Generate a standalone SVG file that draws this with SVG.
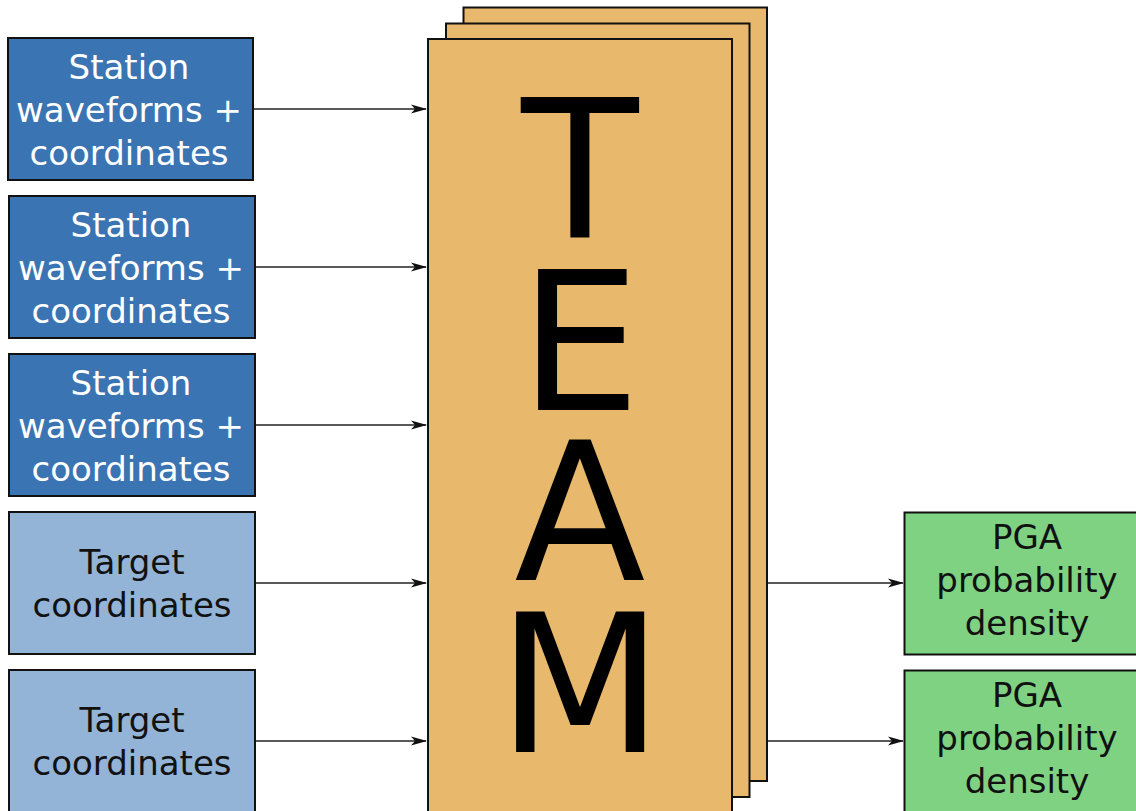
<svg xmlns="http://www.w3.org/2000/svg" width="1136" height="811" viewBox="0 0 1136 811">
  <defs>
    <marker id="arr" viewBox="0 0 16 10" refX="15" refY="5" markerWidth="16" markerHeight="10" markerUnits="userSpaceOnUse" orient="auto">
      <path d="M0,0.5 L16,5 L0,9.5 L4,5 Z" fill="#111"/>
    </marker>
    <style>
      .box { stroke: #111; stroke-width: 2; }
      .station { fill: #3b74b3; }
      .target { fill: #93b3d7; }
      .team { fill: #e8b86d; stroke: #111; stroke-width: 2; }
      .out { fill: #7fd282; }
      .lbl { font-family: "DejaVu Sans", sans-serif; font-size: 34px; text-anchor: middle; }
      .white { fill: #ffffff; }
      .black { fill: #111111; }
      .big { font-family: "DejaVu Sans", sans-serif; font-size: 192px; text-anchor: middle; fill: #000; }
      .conn line { stroke: #222; stroke-width: 1.3; fill: none; marker-end: url(#arr); }
    </style>
  </defs>
  <rect width="1136" height="811" fill="#ffffff"/>

  <g id="team">
    <rect class="team" x="463.5" y="7.5" width="303.5" height="773.5"/>
    <rect class="team" x="446" y="23.5" width="303.5" height="773.5"/>
    <rect class="team" x="428" y="39" width="304" height="773"/>
    <text class="big"><tspan x="580" y="238">T</tspan><tspan x="580" y="410">E</tspan><tspan x="580" y="580">A</tspan><tspan x="580" y="752">M</tspan></text>
  </g>

  <g id="station1">
    <rect class="box station" x="8" y="38" width="245" height="142"/>
    <text class="lbl white" x="129" y="79">Station</text>
    <text class="lbl white" x="129" y="122">waveforms +</text>
    <text class="lbl white" x="129" y="165">coordinates</text>
  </g>
  <g id="station2">
    <rect class="box station" x="9" y="196" width="246" height="142"/>
    <text class="lbl white" x="131" y="237">Station</text>
    <text class="lbl white" x="131" y="280">waveforms +</text>
    <text class="lbl white" x="131" y="323">coordinates</text>
  </g>
  <g id="station3">
    <rect class="box station" x="9" y="354" width="246" height="142"/>
    <text class="lbl white" x="131" y="395">Station</text>
    <text class="lbl white" x="131" y="438">waveforms +</text>
    <text class="lbl white" x="131" y="481">coordinates</text>
  </g>
  <g id="target1">
    <rect class="box target" x="9" y="512" width="246" height="142"/>
    <text class="lbl black" x="132" y="574">Target</text>
    <text class="lbl black" x="132" y="617">coordinates</text>
  </g>
  <g id="target2">
    <rect class="box target" x="9" y="670" width="246" height="142"/>
    <text class="lbl black" x="132" y="732">Target</text>
    <text class="lbl black" x="132" y="775">coordinates</text>
  </g>
  <g id="pga1">
    <rect class="box out" x="904.5" y="512.5" width="246" height="142"/>
    <text class="lbl black" x="1027" y="549">PGA</text>
    <text class="lbl black" x="1027" y="592">probability</text>
    <text class="lbl black" x="1027" y="635">density</text>
  </g>
  <g id="pga2">
    <rect class="box out" x="904.5" y="670.5" width="246" height="142"/>
    <text class="lbl black" x="1027" y="707">PGA</text>
    <text class="lbl black" x="1027" y="750">probability</text>
    <text class="lbl black" x="1027" y="793">density</text>
  </g>

  <g id="connectors" class="conn">
    <line x1="254" y1="109" x2="426" y2="109"/>
    <line x1="256" y1="267" x2="426" y2="267"/>
    <line x1="256" y1="425" x2="426" y2="425"/>
    <line x1="256" y1="583" x2="426" y2="583"/>
    <line x1="256" y1="741" x2="426" y2="741"/>
    <line x1="768" y1="583" x2="903" y2="583"/>
    <line x1="768" y1="741" x2="903" y2="741"/>
  </g>
</svg>
